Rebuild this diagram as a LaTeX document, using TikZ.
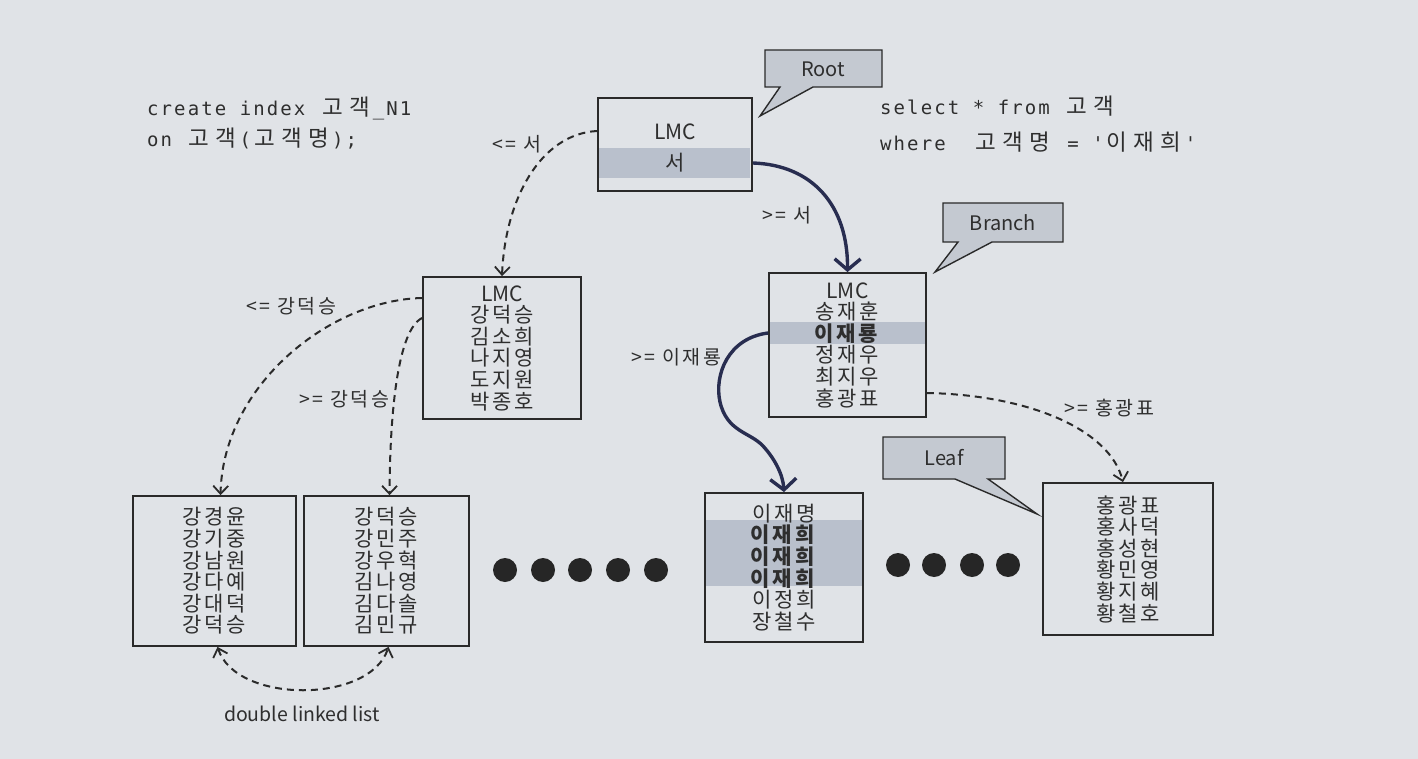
\documentclass[tikz,border=0pt]{standalone}
\usepackage{fontspec}
\setmainfont{Noto Sans CJK KR}
\newfontfamily\codefont[LetterSpace=11]{DejaVu Sans Mono}
\newfontfamily\krfont{Noto Sans CJK KR}
\newfontfamily\spkr[LetterSpace=13]{Noto Sans CJK KR}
\usetikzlibrary{arrows.meta,backgrounds}
\newcommand{\KrCh}[1]{\makebox[27pt][c]{\krfont\fontsize{22.5}{22.5}\selectfont #1}}
\definecolor{bgc}{HTML}{E0E3E7}
\definecolor{bandc}{HTML}{B9C0CC}
\definecolor{callc}{HTML}{C4C9D1}
\definecolor{navy}{HTML}{282D50}
\definecolor{txt}{HTML}{2E2E2E}
\definecolor{linec}{HTML}{2A2A2A}
\tikzset{
  page/.style={x=1pt,y=-1pt},
  blockbox/.style={draw=linec,line width=1.8pt,inner sep=0pt,align=center,text=txt,
    font=\spkr\fontsize{21}{21.6}\selectfont},
  boxtxt/.style={text=txt,inner sep=0pt,font=\fontsize{21}{21.6}\selectfont},
  lbl/.style={text=txt,inner sep=0pt,font=\spkr\fontsize{19.5}{20}\selectfont},
  plainlbl/.style={text=txt,inner sep=0pt,font=\fontsize{19.5}{20}\selectfont},
  codetxt/.style={text=txt,inner sep=0pt,anchor=base west,font=\codefont\fontsize{19}{19}\selectfont},
  calltxt/.style={text=txt,inner sep=0pt,font=\fontsize{20}{20}\selectfont},
  callshape/.style={fill=callc,draw=linec,line width=1.4pt,line join=miter},
  band/.style={fill=bandc},
  dasharrow/.style={draw=linec,line width=2pt,dash pattern=on 7pt off 5pt,
    -{Straight Barb[length=8pt,width=15pt,line width=1.8pt]}},
  dashboth/.style={draw=linec,line width=2pt,dash pattern=on 7pt off 5pt,
    {Straight Barb[length=8pt,width=15pt,line width=1.8pt]}-{Straight Barb[length=8pt,width=15pt,line width=1.8pt]}},
  solidarrow/.style={draw=navy,line width=3.4pt,
    -{Straight Barb[length=11pt,width=26pt,line width=3.4pt]}},
  dotc/.style={fill=black!85}
}
\begin{document}
\begin{tikzpicture}[page]
\begin{pgfonlayer}{background}
\fill[bgc] (0,0) rectangle (1418,759);
\end{pgfonlayer}
\useasboundingbox (0,0) rectangle (1418,759);

% code texts
\node[codetxt] (code1) at (147,116) {create index \KrCh{고}\KrCh{객}\_N1};
\node[codetxt] (code2) at (147,147) {on \KrCh{고}\KrCh{객}(\KrCh{고}\KrCh{객}\KrCh{명});};
\node[codetxt] (sel1) at (880,115) {select * from \KrCh{고}\KrCh{객}};
\node[codetxt] (sel2) at (880,151) {where\ \ \KrCh{고}\KrCh{객}\KrCh{명} = '\KrCh{이}\KrCh{재}\KrCh{희}'};

% boxes
\node[blockbox,minimum width=154pt,minimum height=93pt] (root) at (675,144.5) {};
\node[blockbox,minimum width=158pt,minimum height=142pt] (br1) at (502,348)
  {{\krfont LMC}\\강덕승\\김소희\\나지영\\도지원\\박종호};
\node[blockbox,minimum width=157pt,minimum height=144pt] (br2) at (847.5,345)
  {{\krfont LMC}\\송재훈\\\textbf{이재룡}\\정재우\\최지우\\홍광표};
\node[blockbox,minimum width=163pt,minimum height=150pt] (lf1) at (214.5,571)
  {강경윤\\강기중\\강남원\\강다예\\강대덕\\강덕승};
\node[blockbox,minimum width=165pt,minimum height=150pt] (lf2) at (386.5,571)
  {강덕승\\강민주\\강우혁\\김나영\\김다솔\\김민규};
\node[blockbox,minimum width=158pt,minimum height=149pt] (lf3) at (784,567.5)
  {이재명\\\textbf{이재희}\\\textbf{이재희}\\\textbf{이재희}\\이정희\\장철수};
\node[blockbox,minimum width=170pt,minimum height=152pt] (lf4) at (1128,559)
  {홍광표\\홍사덕\\홍성현\\황민영\\황지혜\\황철호};

\node[boxtxt] (rootlmc) at (675,132) {LMC};
\node[boxtxt] (rootseo) at (675,163) {서};

\begin{pgfonlayer}{background}
  \fill[band] ([xshift=1.5pt]root.west |- 0,148) rectangle ([xshift=-3pt]root.east |- 0,178);
  \fill[band] ([xshift=1pt]br2.west |- 0,322) rectangle ([xshift=-1pt]br2.east |- 0,344);
  \fill[band] ([xshift=1pt]lf3.west |- 0,520) rectangle ([xshift=-1pt]lf3.east |- 0,586);
\end{pgfonlayer}

% callouts
\draw[callshape] (765,50) -- (882,50) -- (882,87) -- (813,87) -- (760,116) -- (780,87) -- (765,87) -- cycle;
\node[calltxt] (rootlab) at (823,69) {Root};
\draw[callshape] (943,203) -- (1063,203) -- (1063,242) -- (992,242) -- (935,272) -- (958,242) -- (943,242) -- cycle;
\node[calltxt] (brlab) at (1003,223) {Branch};
\draw[callshape] (883,437) -- (1005,437) -- (1005,479) -- (988,479) -- (1037,514) -- (955,479) -- (883,479) -- cycle;
\node[calltxt] (leaflab) at (944,458) {Leaf};

% coordinates for connector ends
\coordinate (rootL) at (root.west |- 0,131);
\coordinate (rootR) at (root.east |- 0,163);
\coordinate (br1La) at (br1.west |- 0,298);
\coordinate (br1Lb) at (br1.west |- 0,318);
\coordinate (br2L) at (br2.west |- 0,333);
\coordinate (br2R) at (br2.east |- 0,393);
\coordinate (br1T) at (br1.north);
\coordinate (br2T) at (br2.north);
\coordinate (lf1T) at ([xshift=6pt]lf1.north);
\coordinate (lf2T) at ([xshift=3pt]lf2.north);
\coordinate (lf3T) at (lf3.north);
\coordinate (lf4T) at ([xshift=-5pt]lf4.north);
\coordinate (lf1B) at ([xshift=3pt]lf1.south);
\coordinate (lf2B) at ([xshift=2pt]lf2.south);

% connectors
\draw[dasharrow] (rootL) .. controls (540,134) and (505,200) .. (br1T);
\draw[solidarrow] (rootR) .. controls (812,165) and (848,205) .. (br2T);
\draw[dasharrow] (br1La) .. controls (330,300) and (223,385) .. (lf1T);
\draw[dasharrow] (br1Lb) .. controls (398,330) and (390,410) .. (lf2T);
\draw[solidarrow] (br2L) .. controls (728,338) and (714,375) .. (720,402)
  .. controls (727,432) and (750,432) .. (763,446)
  .. controls (775,459) and (783,475) .. (lf3T);
\draw[dasharrow] (br2R) .. controls (1030,395) and (1110,430) .. (lf4T);
\draw[dashboth] (lf1B) .. controls (236,704) and (370,704) .. (lf2B);

% labels
\node[lbl] (l1) at (517,144) {<= 서};
\node[lbl] (l2) at (787,215) {>= 서};
\node[lbl] (l3) at (291,306) {<= 강덕승};
\node[lbl] (l4) at (344,399) {>= 강덕승};
\node[lbl] (l5) at (676,357) {>= 이재룡};
\node[lbl] (l6) at (1109,408) {>= 홍광표};
\node[plainlbl] (l7) at (302,714) {double linked list};

% dots
\foreach \x [count=\i] in {505,543,580,618,656}
  \fill[dotc] (\x,570) circle (12pt) node (dl\i) {};
\foreach \x [count=\i] in {898,934,972,1008}
  \fill[dotc] (\x,565) circle (12pt) node (dr\i) {};
\end{tikzpicture}
\end{document}
